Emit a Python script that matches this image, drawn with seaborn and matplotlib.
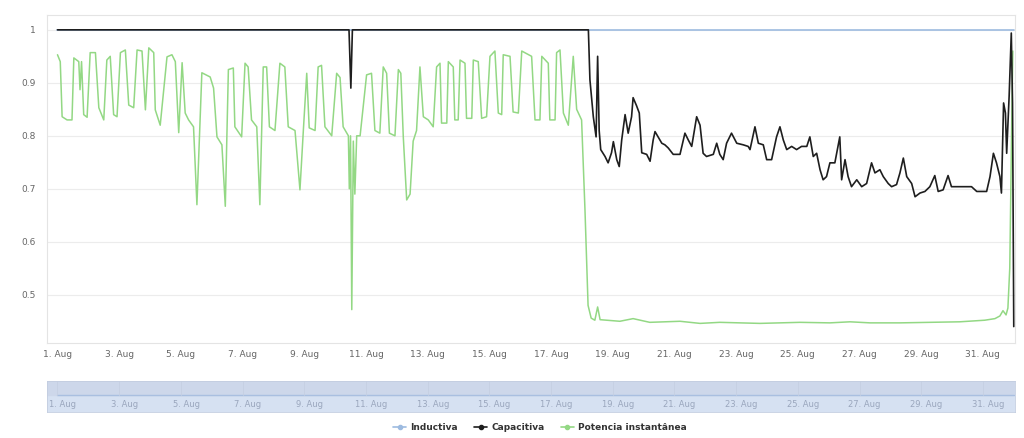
"""
Power factor chart - August (Inductiva / Capacitiva / Potencia instantânea)
"""

import pandas as pd
import numpy as np
import matplotlib.pyplot as plt
import matplotlib.transforms as mtransforms
from matplotlib.lines import Line2D
import seaborn as sns

sns.set_style("white")
plt.rcParams['font.family'] = ['DejaVu Sans']

START = pd.Timestamp("2021-08-01")

# ---- data (days since 1 Aug, value) ----
inductiva_days = [0.0, 31.0]
inductiva_vals = [1.0, 1.0]

capacitiva_days = [
    0.0, 9.45, 9.51, 9.56, 17.21, 17.26, 17.37, 17.46, 17.51, 17.56, 17.61, 17.75,
    17.85, 17.96, 18.02, 18.13, 18.21, 18.29, 18.40, 18.50, 18.61, 18.66, 18.77,
    18.86, 18.94, 19.10, 19.21, 19.31, 19.37, 19.47, 19.59, 19.69, 19.80, 19.96,
    20.18, 20.34, 20.45, 20.56, 20.72, 20.83, 20.93, 21.04, 21.26, 21.37, 21.47,
    21.58, 21.69, 21.85, 22.02, 22.23, 22.39, 22.45, 22.61, 22.72, 22.88, 22.99,
    23.15, 23.31, 23.42, 23.53, 23.64, 23.80, 23.96, 24.12, 24.29, 24.39, 24.50,
    24.61, 24.72, 24.82, 24.93, 25.04, 25.20, 25.36, 25.42, 25.53, 25.63, 25.74,
    25.91, 26.07, 26.23, 26.39, 26.50, 26.66, 26.77, 26.93, 27.04, 27.20, 27.31,
    27.42, 27.53, 27.69, 27.80, 27.96, 28.12, 28.28, 28.44, 28.55, 28.71, 28.87,
    28.98, 29.15, 29.31, 29.47, 29.63, 29.80, 29.96, 30.12, 30.23, 30.34, 30.44,
    30.55, 30.60, 30.67, 30.73, 30.77, 30.85, 30.92, 30.96, 31.0]
capacitiva_vals = [
    1.0, 1.0, 0.89, 1.0, 1.0, 0.906, 0.836, 0.798, 0.95, 0.81, 0.774, 0.761,
    0.749, 0.768, 0.789, 0.755, 0.742, 0.792, 0.84, 0.805, 0.836, 0.872, 0.857,
    0.843, 0.768, 0.765, 0.752, 0.792, 0.808, 0.798, 0.786, 0.783, 0.777, 0.765,
    0.765, 0.805, 0.792, 0.78, 0.836, 0.82, 0.767, 0.761, 0.765, 0.786, 0.765,
    0.755, 0.786, 0.805, 0.786, 0.783, 0.78, 0.774, 0.817, 0.786, 0.783, 0.755,
    0.755, 0.798, 0.817, 0.792, 0.774, 0.78, 0.774, 0.78, 0.78, 0.798, 0.761,
    0.767, 0.736, 0.717, 0.723, 0.749, 0.749, 0.798, 0.717, 0.755, 0.723, 0.704,
    0.717, 0.704, 0.71, 0.749, 0.73, 0.736, 0.723, 0.71, 0.704, 0.708, 0.73,
    0.758, 0.723, 0.71, 0.685, 0.692, 0.695, 0.704, 0.725, 0.695, 0.698, 0.725,
    0.704, 0.704, 0.704, 0.704, 0.704, 0.695, 0.695, 0.695, 0.723, 0.767, 0.749,
    0.723, 0.692, 0.862, 0.843, 0.767, 0.875, 0.994, 0.862, 0.44]

potencia_days = [
    0.0, 0.09, 0.15, 0.31, 0.47, 0.53, 0.69, 0.73, 0.78, 0.85, 0.96, 1.06, 1.23,
    1.34, 1.50, 1.60, 1.71, 1.82, 1.93, 2.04, 2.20, 2.31, 2.47, 2.58, 2.74, 2.85,
    2.96, 3.12, 3.17, 3.33, 3.55, 3.71, 3.82, 3.93, 4.04, 4.14, 4.25, 4.41, 4.52,
    4.61, 4.68, 4.95, 5.06, 5.17, 5.33, 5.44, 5.54, 5.70, 5.75, 5.97, 6.08, 6.18,
    6.29, 6.46, 6.56, 6.67, 6.78, 6.87, 7.05, 7.21, 7.37, 7.48, 7.70, 7.86, 7.97,
    8.08, 8.16, 8.35, 8.45, 8.56, 8.67, 8.89, 9.05, 9.16, 9.26, 9.43, 9.46, 9.50,
    9.54, 9.59, 9.64, 9.70, 9.81, 10.02, 10.18, 10.29, 10.45, 10.56, 10.67, 10.76,
    10.94, 11.05, 11.13, 11.21, 11.32, 11.43, 11.53, 11.64, 11.75, 11.86, 12.02,
    12.18, 12.29, 12.40, 12.45, 12.62, 12.67, 12.83, 12.88, 12.99, 13.05, 13.21,
    13.26, 13.43, 13.48, 13.64, 13.75, 13.91, 14.02, 14.18, 14.29, 14.40, 14.45,
    14.67, 14.77, 14.94, 15.05, 15.37, 15.48, 15.64, 15.70, 15.91, 15.96, 16.13,
    16.18, 16.29, 16.40, 16.56, 16.72, 16.83, 16.99, 17.10, 17.20, 17.30, 17.42,
    17.51, 17.59, 18.23, 18.66, 19.20, 20.18, 20.83, 21.47, 22.12, 22.77, 23.42,
    24.07, 25.04, 25.69, 26.34, 27.31, 28.28, 29.25, 30.06, 30.39, 30.55, 30.65,
    30.75, 30.81, 30.87, 30.94, 30.97]
potencia_vals = [
    0.953, 0.94, 0.836, 0.83, 0.83, 0.947, 0.94, 0.887, 0.94, 0.84, 0.835, 0.957,
    0.957, 0.853, 0.83, 0.943, 0.95, 0.84, 0.836, 0.957, 0.962, 0.858, 0.853,
    0.962, 0.96, 0.849, 0.966, 0.957, 0.849, 0.82, 0.949, 0.953, 0.94, 0.806,
    0.938, 0.843, 0.83, 0.817, 0.67, 0.81, 0.919, 0.911, 0.89, 0.798, 0.783,
    0.667, 0.925, 0.928, 0.817, 0.798, 0.937, 0.93, 0.83, 0.817, 0.67, 0.93, 0.93,
    0.817, 0.81, 0.937, 0.93, 0.817, 0.81, 0.698, 0.81, 0.918, 0.815, 0.81, 0.93,
    0.933, 0.817, 0.80, 0.918, 0.91, 0.817, 0.80, 0.70, 0.80, 0.472, 0.79, 0.69,
    0.80, 0.80, 0.915, 0.918, 0.81, 0.805, 0.93, 0.918, 0.805, 0.80, 0.925, 0.918,
    0.798, 0.679, 0.69, 0.79, 0.81, 0.93, 0.836, 0.83, 0.817, 0.93, 0.937, 0.824,
    0.824, 0.94, 0.93, 0.83, 0.83, 0.943, 0.937, 0.833, 0.833, 0.943, 0.94, 0.833,
    0.836, 0.95, 0.96, 0.843, 0.84, 0.953, 0.95, 0.845, 0.843, 0.96, 0.95, 0.83,
    0.83, 0.95, 0.937, 0.83, 0.83, 0.957, 0.962, 0.843, 0.82, 0.95, 0.85, 0.83,
    0.66, 0.48, 0.456, 0.452, 0.477, 0.453, 0.45, 0.455, 0.448, 0.45, 0.446,
    0.448, 0.447, 0.446, 0.447, 0.448, 0.447, 0.449, 0.447, 0.447, 0.448, 0.449,
    0.452, 0.455, 0.46, 0.47, 0.462, 0.475, 0.55, 0.85, 0.96]

y_ticks = [0.5, 0.6, 0.7, 0.8, 0.9, 1.0]
y_tick_labels = ["0.5", "0.6", "0.7", "0.8", "0.9", "1"]

COL_IND = '#9dbbe0'
COL_CAP = '#1e1e1e'
COL_POT = '#93d884'


def to_dates(days):
    return START + pd.to_timedelta(np.asarray(days), unit="D")


fig = plt.figure(figsize=(10.24, 4.38), dpi=100)
ax = fig.add_axes([47 / 1024, 1 - 343 / 438, 968 / 1024, 328 / 438])

sns.lineplot(x=to_dates(inductiva_days), y=inductiva_vals, ax=ax, color=COL_IND,
             linewidth=1.2, estimator=None, sort=False)
sns.lineplot(x=to_dates(potencia_days), y=potencia_vals, ax=ax, color=COL_POT,
             linewidth=1.1, estimator=None, sort=False)
sns.lineplot(x=to_dates(capacitiva_days), y=capacitiva_vals, ax=ax, color=COL_CAP,
             linewidth=1.2, estimator=None, sort=False)

x_lo = START - pd.Timedelta(days=0.34)
x_hi = START + pd.Timedelta(days=31.04)
ax.set_xlim(x_lo, x_hi)
ax.set_ylim(0.409, 1.028)

ax.set_yticks(y_ticks)
ax.set_yticklabels(y_tick_labels)
tick_dates = pd.date_range(START, periods=16, freq="2D")
ax.set_xticks(tick_dates)
ax.set_xticklabels([f"{t.day}. Aug" for t in tick_dates])
ax.tick_params(axis='both', labelsize=6.5, colors='#666666', length=0)
ax.tick_params(axis='y', pad=8)
ax.tick_params(axis='x', pad=5)
ax.grid(axis='y', color='#ececec', linewidth=0.8)
ax.set_axisbelow(True)
for side, sp in ax.spines.items():
    sp.set_color('#e4e4e4')
    sp.set_linewidth(0.8)
ax.set_xlabel("")
ax.set_ylabel("")

# ---- navigator ----
nav = fig.add_axes([47 / 1024, 1 - 412 / 438, 968 / 1024, 31 / 438])
nav.set_facecolor('#d6e1f2')
nav.axhspan(0.55, 1.0, color='#cdd7ea', zorder=0)
sns.lineplot(x=to_dates(inductiva_days), y=[0.55, 0.55], ax=nav, color='#a9bfe0',
             linewidth=1.0, estimator=None, sort=False)
nav.set_xlim(x_lo, x_hi)
nav.set_ylim(0, 1)
for t in tick_dates:
    nav.axvline(t, ymin=0.55, ymax=1.0, color='#c5cfe2', linewidth=0.6)
trans = mtransforms.blended_transform_factory(nav.transData, nav.transAxes)
for t in tick_dates:
    nav.text(t + pd.Timedelta(hours=4), 0.25, f"{t.day}. Aug", transform=trans,
             fontsize=6, color='#9aa6bd', ha='center', va='center')
nav.set_xticks([])
nav.set_yticks([])
nav.set_xlabel("")
nav.set_ylabel("")
for sp in nav.spines.values():
    sp.set_color('#c3cde0')
    sp.set_linewidth(0.6)

# ---- legend ----
handles = [
    Line2D([0], [0], color=COL_IND, marker='o', markersize=3, linewidth=1.2),
    Line2D([0], [0], color=COL_CAP, marker='o', markersize=3, linewidth=1.2),
    Line2D([0], [0], color=COL_POT, marker='o', markersize=3, linewidth=1.2),
]
labels = ["Inductiva", "Capacitiva", "Potencia instantânea"]
fig.legend(handles, labels, loc='center', bbox_to_anchor=(540 / 1024, 1 - 428 / 438),
           ncol=3, frameon=False, handlelength=1.4, columnspacing=1.8,
           handletextpad=0.5, prop={'size': 6.5, 'weight': 'bold'},
           labelcolor='#333333')

plt.savefig("out.png", dpi=100)
plt.close()
